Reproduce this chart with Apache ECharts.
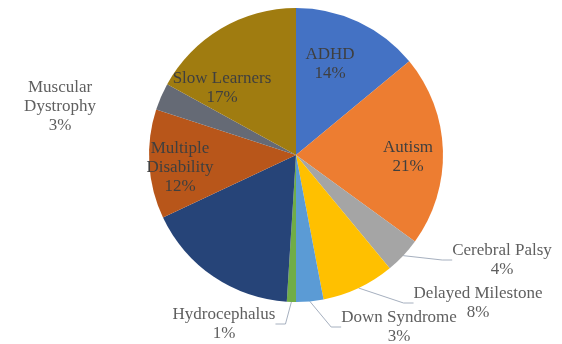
<!DOCTYPE html>
<html>
<head>
<meta charset="utf-8">
<script src="https://cdn.jsdelivr.net/npm/echarts@6/dist/echarts.min.js"></script>
<style>html,body{margin:0;padding:0;background:#fff}#c{width:562px;height:344px}</style>
</head>
<body>
<div id="c"></div>
<script>
// Data
const categories = ["ADHD","Autism","Cerebral Palsy","Delayed Milestone","Down Syndrome","Hydrocephalus","Other","Multiple Disability","Muscular Dystrophy","Slow Learners"];
const values = [14,21,4,8,3,1,17,12,3,17];
const labelNames = ["ADHD","Autism","Cerebral Palsy","Delayed Milestone","Down Syndrome","Hydrocephalus","","Multiple\nDisability","Muscular\nDystrophy","Slow Learners"];

// Styles / layout
const colors = ["#4472C4","#ED7D31","#A5A5A5","#FFC000","#5B9BD5","#70AD47","#264478","#B8561A","#656A75","#A07C10"];
const outsideSet = {"Cerebral Palsy":1,"Delayed Milestone":1,"Down Syndrome":1,"Hydrocephalus":1,"Muscular Dystrophy":1};
const labelPos = {
  "ADHD":[330,64], "Autism":[408,157], "Slow Learners":[222,88], "Multiple Disability":[180,168],
  "Muscular Dystrophy":[60,107], "Cerebral Palsy":[502,260], "Delayed Milestone":[478,303],
  "Down Syndrome":[399,327], "Hydrocephalus":[224,324]
};

const data = categories.map((c, i) => {
  const outside = !!outsideSet[c];
  return {
    name: c,
    value: values[i],
    itemStyle: { color: colors[i] },
    label: {
      show: labelNames[i] !== "",
      position: outside ? 'outside' : 'inside',
      color: outside ? '#5f5f5f' : '#3f3f3f'
    },
    labelLine: { show: outside && c !== "Muscular Dystrophy" }
  };
});

const chart = echarts.init(document.getElementById('c'), null, {renderer: 'canvas'});
chart.setOption({
  animation: false,
  backgroundColor: '#ffffff',
  series: [{
    type: 'pie',
    center: [296, 155],
    radius: 147,
    startAngle: 90,
    clockwise: true,
    avoidLabelOverlap: false,
    data: data,
    itemStyle: { borderWidth: 0 },
    label: {
      fontFamily: "'Liberation Serif', 'Times New Roman', serif",
      fontSize: 17,
      lineHeight: 19,
      align: 'center',
      formatter: p => labelNames[p.dataIndex] + '\n' + p.value + '%'
    },
    labelLine: {
      lineStyle: { color: '#a6b0bf', width: 1 },
      length: 10, length2: 10, smooth: false
    },
    labelLayout: function (params) {
      const name = categories[params.dataIndex];
      const pos = labelPos[name];
      if (!pos) return {};
      return { x: pos[0], y: pos[1], align: 'center', verticalAlign: 'middle' };
    }
  }]
});
</script>
</body>
</html>
